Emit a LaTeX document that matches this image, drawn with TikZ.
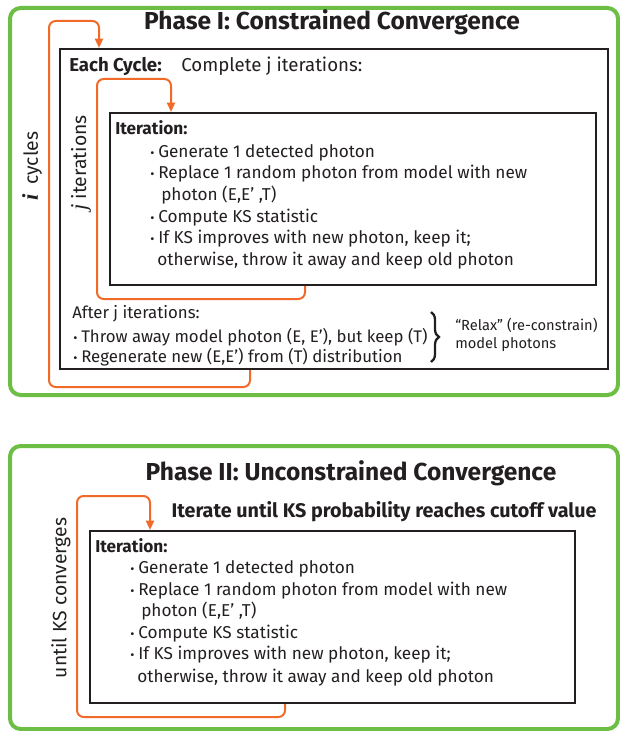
\documentclass[tikz,border=0pt]{standalone}
\usepackage{fontspec}
\setmainfont{Fira Sans}
\newfontfamily\serifit{Liberation Serif}
\usetikzlibrary{arrows.meta,decorations.pathreplacing,fit}
\definecolor{pgreen}{HTML}{6CBE45}
\definecolor{porange}{HTML}{F26A2A}
\definecolor{pblack}{HTML}{231F20}
\newcommand\bl{\makebox[6pt][l]{\fontsize{9.5}{9}\selectfont\textbullet}}
\begin{document}
\begin{tikzpicture}[x=0.75pt,y=-0.75pt,
  greenbox/.style={draw=pgreen, line width=3pt, rounded corners=8pt, inner sep=0pt},
  blackbox/.style={draw=pblack, line width=1.5pt, inner sep=0pt},
  loopline/.style={draw=porange, line width=1.5pt, rounded corners=5pt, -{Triangle[length=7pt,width=6pt]}},
  body/.style={font=\fontsize{12.9}{14}\selectfont, anchor=base west, inner sep=0pt, text=pblack},
  after/.style={font=\fontsize{12.6}{14}\selectfont, anchor=base west, inner sep=0pt, text=pblack},
  small/.style={font=\fontsize{11}{13}\selectfont, anchor=base west, inner sep=0pt, text=pblack},
  mid/.style={font=\fontsize{14}{16}\selectfont, anchor=base west, inner sep=0pt, text=pblack},
  title/.style={font=\fontsize{18.4}{20}\selectfont\bfseries, anchor=base, inner sep=0pt, text=pblack},
  subtitle/.style={font=\fontsize{14.8}{17}\selectfont\bfseries, anchor=base, inner sep=0pt, text=pblack},
  side/.style={font=\fontsize{14.5}{17}\selectfont, rotate=90, inner sep=0pt, text=pblack},
  bracestyle/.style={draw=pblack, line width=1.7pt, decorate, decoration={brace, amplitude=6pt}}
]
\useasboundingbox (0,0) rectangle (620,731);

% ---------- Phase I ----------
\node[greenbox, fit={(10,8) (618,395)}] (ph1) {};
\node[blackbox, fit={(60,49) (608,369)}] (cyc) {};
\node[blackbox, fit={(110,113) (596,285)}] (iter) {};

\node[title] (t1) at (332,30) {Phase I: Constrained Convergence};
\node[mid] (ec) at (69,72) {\textbf{Each Cycle:}};
\node[mid] (cj) at (181,72) {Complete j iterations:};

\node[body] (i0) at (115,135) {\textbf{Iteration:}};
\node[body] (i1) at (150,157) {\bl Generate 1 detected photon};
\node[body] (i2) at (150,178) {\bl Replace 1 random photon from model with new};
\node[body] (i3) at (161,200) {photon (E,E’ ,T)};
\node[body] (i4) at (150,222) {\bl Compute KS statistic};
\node[body] (i5) at (150,243) {\bl If KS improves with new photon, keep it;};
\node[body] (i6) at (157,265) {otherwise, throw it away and keep old photon};

\node[after] (a0) at (72,318) {After j iterations:};
\node[after] (a1) at (73,342) {\bl Throw away model photon (E, E’), but keep (T)};
\node[after] (a2) at (73,362) {\bl Regenerate new (E,E’) from (T) distribution};
\draw[bracestyle] (431,312) -- (431,362);
\node[small] (r1) at (455,330) {“Relax” (re-constrain)};
\node[small] (r2) at (455,348) {model photons};

\node[side] (icy) at (32,166) {{\serifit\fontsize{17}{17}\selectfont\bfseries\itshape i}\hspace{3pt} cycles};
\node[side] (jit) at (81,163) {{\serifit\fontsize{17}{17}\selectfont\itshape j} iterations};

\coordinate (oc) at (250,0);
\coordinate (ol) at (49,387);
\coordinate (ot) at (99,21);
\draw[loopline] (cyc.south -| oc) |- (ol) |- (ot) -- (ot |- cyc.north);

\coordinate (ic) at (305,0);
\coordinate (il) at (97,299);
\coordinate (it) at (171,79);
\draw[loopline] (iter.south -| ic) |- (il) |- (it) -- (it |- iter.north);

% ---------- Phase II ----------
\node[greenbox, fit={(10,446) (618,729)}] (ph2) {};
\node[blackbox, fit={(90,531) (575,703)}] (iter2) {};
\node[title] (t2) at (351,480) {Phase II: Unconstrained Convergence};
\node[subtitle] (st) at (384,517) {Iterate until KS probability reaches cutoff value};

\node[body] (k0) at (95,552) {\textbf{Iteration:}};
\node[body] (k1) at (130,573) {\bl Generate 1 detected photon};
\node[body] (k2) at (130,595) {\bl Replace 1 random photon from model with new};
\node[body] (k3) at (141,616) {photon (E,E’ ,T)};
\node[body] (k4) at (130,638) {\bl Compute KS statistic};
\node[body] (k5) at (130,659) {\bl If KS improves with new photon, keep it;};
\node[body] (k6) at (137,682) {otherwise, throw it away and keep old photon};

\node[side] (ukc) at (61,598) {until KS converges};

\coordinate (pc) at (285,0);
\coordinate (pl) at (77,717);
\coordinate (pt) at (150,496);
\draw[loopline] (iter2.south -| pc) |- (pl) |- (pt) -- (pt |- iter2.north);
\end{tikzpicture}
\end{document}
